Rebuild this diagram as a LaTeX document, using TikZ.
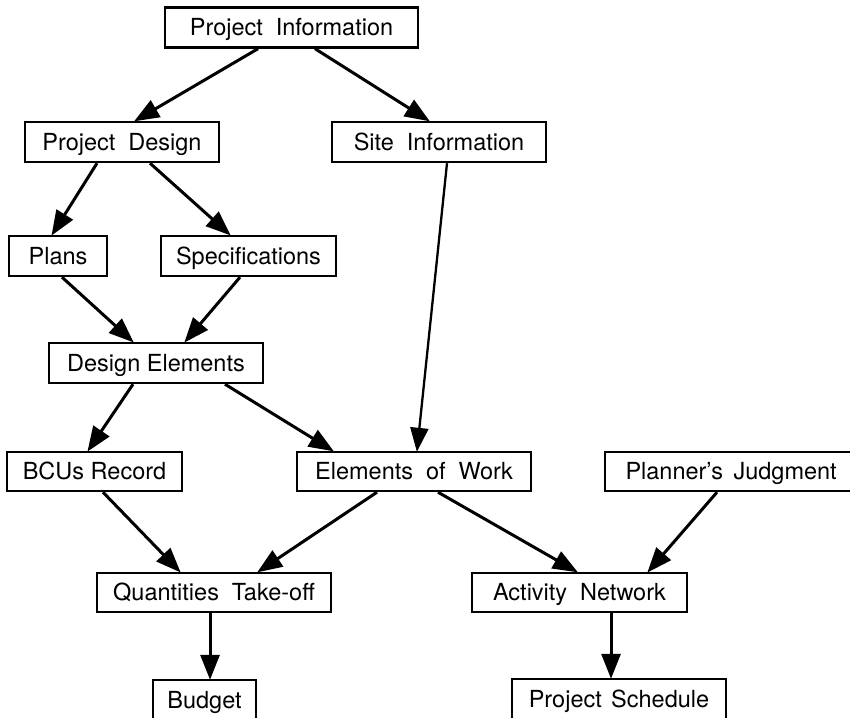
\documentclass[tikz,border=0pt]{standalone}
\usepackage{fontspec}
\setmainfont{TeX Gyre Heros}
\usetikzlibrary{arrows.meta}

% wide gap between words, as set in the box labels
\newcommand{\wgap}{\hspace{0.55em}}

\begin{document}
\begin{tikzpicture}[x=1pt,y=-1pt,
  box/.style={draw, line width=2.4pt, rectangle, inner sep=0pt,
    minimum height=40pt, text height=17pt, text depth=1pt,
    font=\fontsize{23.5}{27}\selectfont},
  flow/.style={line width=3pt, -{Triangle[length=25pt,width=19pt]}, shorten >=-1pt},
  thinflow/.style={line width=2.3pt, -{Triangle[length=24pt,width=18pt]}, shorten >=-1pt}
]
\useasboundingbox (0,0) rectangle (850,717);
\clip (0,0) rectangle (850,717);

% boxes
\node[box, minimum width=253pt] (pinfo)  at (291.5,27.5) {Project\wgap Information};
\node[box, minimum width=194pt] (pdes)   at (122,142)    {Project\wgap Design};
\node[box, minimum width=214pt] (site)   at (439,142)    {Site\wgap Information};
\node[box, minimum width=98pt]  (plans)  at (58,256)     {Plans};
\node[box, minimum width=175pt] (specs)  at (248.5,256)  {Specifications};
\node[box, minimum width=214pt] (delem)  at (156,363)    {Design Elements};
\node[box, minimum width=175pt, minimum height=39pt] (bcus) at (94.5,471.5) {BCUs Record};
\node[box, minimum width=234pt, minimum height=39pt] (work) at (414,471.5)  {Elements\wgap of\wgap Work};
\node[box, minimum width=262pt, minimum height=39pt, text width=245pt, align=left] (judg) at (736,471.5) {\hspace{12pt}Planner's\hspace{0.45em}Judgment};
\node[box, minimum width=234pt, minimum height=39pt] (qty)  at (214,592.5)  {Quantities\wgap Take-off};
\node[box, minimum width=215pt, minimum height=39pt] (anet) at (579.5,592.5) {Activity\wgap Network};
\node[box, minimum width=103pt] (budget) at (204.5,700)  {Budget};
\node[box, minimum width=214pt] (sched)  at (619,699)    {Project\hspace{0.4em}Schedule};

% connectors
\draw[flow] (pinfo.south -| 258,0) -- (pdes.north -| 135,0);
\draw[flow] (pinfo.south -| 315,0) -- (site.north -| 429,0);
\draw[flow] (pdes.south -| 97,0)   -- (plans.north -| 52,0);
\draw[flow] (pdes.south -| 150,0)  -- (specs.north -| 230,0);
\draw[flow] (plans.south -| 62,0)  -- (delem.north -| 133,0);
\draw[flow] (specs.south -| 240,0) -- (delem.north -| 185,0);
\draw[thinflow] (site.south -| 447,0) -- (work.north -| 417,0);
\draw[flow] (delem.south -| 133,0) -- (bcus.north -| 88,0);
\draw[flow] (delem.south -| 225,0) -- (work.north -| 333,0);
\draw[flow] (bcus.south -| 103,0)  -- (qty.north -| 180,0);
\draw[flow] (work.south -| 377,0)  -- (qty.north -| 258,0);
\draw[flow] (work.south -| 438,0)  -- (anet.north -| 577,0);
\draw[flow] (judg.south -| 717,0)  -- (anet.north -| 648,0);
\draw[flow] (qty.south -| 210,0)   -- (budget.north -| 210,0);
\draw[flow] (anet.south -| 611,0)  -- (sched.north -| 611,0);
\end{tikzpicture}
\end{document}
